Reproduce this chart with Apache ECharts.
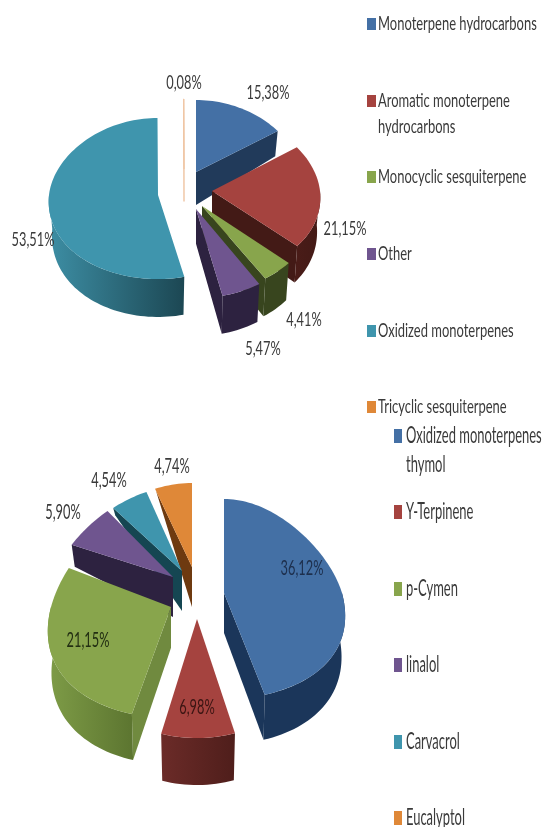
<!DOCTYPE html>
<html>
<head>
<meta charset="utf-8">
<title>Essential oil composition</title>
<script src="https://cdn.jsdelivr.net/npm/echarts@6/dist/echarts.min.js"></script>
<style>
html,body{margin:0;padding:0;background:#fff}
/* the source picture is a soft upscaled scan */
#main{width:542px;height:827px;filter:blur(0.5px)}
</style>
</head>
<body>
<div id="main"></div>
<script>
// data
var classNames = ['Monoterpene hydrocarbons', 'Aromatic monoterpene\nhydrocarbons', 'Monocyclic sesquiterpene', 'Other', 'Oxidized monoterpenes', 'Tricyclic sesquiterpene'];
var classValues = [15.38, 21.15, 4.41, 5.47, 53.51, 0.08];
var compoundNames = ['Oxidized monoterpenes\nthymol', 'Y-Terpinene', 'p-Cymen', 'linalol', 'Carvacrol', 'Eucalyptol'];
var compoundValues = [36.12, 6.98, 21.15, 5.90, 4.54, 4.74];

var topColors = ['#4470a5', '#a5433f', '#88a54c', '#6f558f', '#3f95ad', '#df8838'];

// geometry of each exploded slice, in px: apex, radii
var classSlices = [
  {ax: 196, ay: 172, rx: 104, ryT: 72, ryB: 74},
  {ax: 212, ay: 191, rx: 108, ryT: 77, ryB: 83},
  {ax: 202, ay: 206, rx: 110, ryT: 86, ryB: 86},
  {ax: 196, ay: 209, rx: 110, ryT: 88, ryB: 89},
  {ax: 158, ay: 195, rx: 109, ryT: 77, ryB: 84},
  {ax: 184, ay: 169, rx: 100, ryT: 70, ryB: 70}
];
var compoundSlices = [
  {ax: 224, ay: 593, rx: 118, ryT: 94, ryB: 106},
  {ax: 197, ay: 619, rx: 110, ryT: 110, ryB: 119},
  {ax: 171, ay: 607, rx: 120, ryT: 108, ryB: 111},
  {ax: 173, ay: 577, rx: 119, ryT: 89, ryB: 89},
  {ax: 182, ay: 571, rx: 125, ryT: 85, ryB: 85},
  {ax: 192, ay: 567, rx: 130, ryT: 84, ryB: 84}
];
// wall colours: flat side, then curved rim left -> right
var classWalls = [
  ['#213a5a', '#213a5a', '#213a5a'],
  ['#431a16', '#4a1c18', '#431a16'],
  ['#38451e', '#38451e', '#38451e'],
  ['#2d2240', '#2d2240', '#2d2240'],
  ['#1c4753', '#3d8ea4', '#1c4753'],
  ['#f0c8a8', '#f0c8a8', '#f0c8a8']
];
var compoundWalls = [
  ['#1b365a', '#1b365a', '#1b365a'],
  ['#5a2320', '#6b2b28', '#4f1e1b'],
  ['#708a3f', '#7e9c47', '#5c7530'],
  ['#2d2240', '#2d2240', '#2d2240'],
  ['#154652', '#154652', '#154652'],
  ['#6e3a10', '#6e3a10', '#6e3a10']
];

var classDepth = [[95, 0], [130, 25], [172, 33], [280, 38], [400, 38]];
var compoundDepth = [[480, 0], [510, 8], [545, 22], [567, 40], [593, 40], [733, 47], [800, 47]];

var classLabelPos = [[268, 93], [345, 229], [304, 320], [263, 349], [33, 240], [184, 83]];
var compoundLabelPos = [[302, 568], [197, 707], [88, 640], [63, 512], [109, 480], [172, 466]];
var compoundLabelFill = ['#1d2f4d', '#3c1513', '#222e12', '#3a3a3a', '#3a3a3a', '#3a3a3a'];

var classLegendY = [24, 101, 177, 254, 331, 407];
var compoundLegendY = [436, 512, 589, 665, 742, 818];

var FONT = 'Lato';

function angles(values) {
  var sum = values.reduce(function (a, b) { return a + b; }, 0);
  var acc = 0;
  return values.map(function (v) {
    var a0 = acc;
    acc += v / sum * 360;
    return [a0, acc];
  });
}

function depthAt(stops, y) {
  for (var i = 1; i < stops.length; i++) {
    if (y <= stops[i][0]) {
      var t = (y - stops[i - 1][0]) / (stops[i][0] - stops[i - 1][0]);
      return stops[i - 1][1] + Math.max(t, 0) * (stops[i][1] - stops[i - 1][1]);
    }
  }
  return stops[stops.length - 1][1];
}

function rim(s, deg, persp) {
  var r = deg * Math.PI / 180;
  var sn = Math.sin(r), cs = Math.cos(r);
  return [s.ax + s.rx * sn * (1 - persp * cs), s.ay - (cs > 0 ? s.ryT : s.ryB) * cs];
}

function lower(s, p, stops) {
  return [s.ax + (p[0] - s.ax) * 0.97, p[1] + depthAt(stops, p[1])];
}

function arc(s, a0, a1, persp) {
  var pts = [], n = Math.max(2, Math.ceil((a1 - a0) / 2));
  for (var i = 0; i <= n; i++) pts.push(rim(s, a0 + (a1 - a0) * i / n, persp));
  return pts;
}

// one custom series per pie, slices sorted back to front with z2
function pieSeries(values, slices, walls, stops, persp) {
  var ang = angles(values);
  var rank = values.map(function (v, i) { return i; }).sort(function (a, b) {
    var ma = (ang[a][0] + ang[a][1]) / 2 * Math.PI / 180, mb = (ang[b][0] + ang[b][1]) / 2 * Math.PI / 180;
    return Math.cos(mb) - Math.cos(ma);
  });
  return {
    type: 'custom',
    coordinateSystem: 'none',
    silent: true,
    animation: false,
    data: values,
    renderItem: function (params) {
      var i = params.dataIndex, s = slices[i], a0 = ang[i][0], a1 = ang[i][1];
      var z = rank.indexOf(i) * 4 + 1;
      var thin = a1 - a0 < 1;
      var kids = [];
      var apex = [s.ax, s.ay], apexLow = lower(s, apex, stops);
      function flat(deg) {
        var p = rim(s, deg, persp);
        kids.push({type: 'polygon', z2: z, shape: {points: [apex, p, lower(s, p, stops), apexLow]},
          style: {fill: walls[i][0], stroke: thin ? walls[i][0] : null, lineWidth: 1}});
      }
      if (Math.sin(a0 * Math.PI / 180) < -1e-6) flat(a0);
      if (Math.sin(a1 * Math.PI / 180) > 1e-6) flat(a1);
      var r0 = Math.max(a0, 90), r1 = Math.min(a1, 270);
      if (r1 > r0) {
        var up = arc(s, r0, r1, persp);
        var low = up.map(function (p) { return lower(s, p, stops); }).reverse();
        kids.push({type: 'polygon', z2: z + 1, shape: {points: up.concat(low)},
          style: {fill: new echarts.graphic.LinearGradient(0, 0, 1, 0, [
            {offset: 0, color: walls[i][1]}, {offset: 1, color: walls[i][2]}
          ])}});
      }
      kids.push({type: 'polygon', z2: z + 2, shape: {points: [apex].concat(arc(s, a0, a1, persp))},
        style: {fill: topColors[i], stroke: thin ? '#f0c8a8' : null, lineWidth: 1}});
      return {type: 'group', children: kids};
    }
  };
}

function textEl(str, x, y, fill, sx, sy, align) {
  return {
    type: 'text', x: x, y: y, scaleX: sx, scaleY: sy, z2: 100,
    style: {text: str, fill: fill, font: '16px ' + FONT, textAlign: align, textVerticalAlign: 'middle'}
  };
}

function labelSeries(values, pos, fills, sy) {
  return {
    type: 'custom', coordinateSystem: 'none', silent: true, animation: false, z: 5,
    data: values,
    renderItem: function (params, api) {
      var i = params.dataIndex;
      var str = api.value(0).toFixed(2).replace('.', ',') + '%';
      return textEl(str, pos[i][0], pos[i][1], fills ? fills[i] : '#3a3a3a', 0.8, sy, 'center');
    }
  };
}

function legendSeries(names, rows, swX, swW, swH, txX, sx, sy, lineGap) {
  return {
    type: 'custom', coordinateSystem: 'none', silent: true, animation: false, z: 5,
    data: names.map(function (n, i) { return i; }),
    renderItem: function (params) {
      var i = params.dataIndex, y = rows[i];
      var kids = [{type: 'rect', z2: 100, shape: {x: swX, y: y - swH / 2, width: swW, height: swH}, style: {fill: topColors[i]}}];
      names[i].split('\n').forEach(function (line, k) {
        kids.push(textEl(line, txX, y + k * lineGap, '#3a3a3a', sx, sy, 'left'));
      });
      return {type: 'group', children: kids};
    }
  };
}

var myChart = echarts.init(document.getElementById('main'), null, {renderer: 'canvas'});
myChart.setOption({
  animation: false,
  backgroundColor: '#fff',
  series: [
    pieSeries(classValues, classSlices, classWalls, classDepth, 0.08),
    pieSeries(compoundValues, compoundSlices, compoundWalls, compoundDepth, 0.24),
    labelSeries(classValues, classLabelPos, null, 1.2),
    labelSeries(compoundValues, compoundLabelPos, compoundLabelFill, 1.35),
    legendSeries(classNames, classLegendY, 367, 9, 12, 378, 0.81, 1.15, 26),
    legendSeries(compoundNames, compoundLegendY, 394, 8, 14, 406, 0.81, 1.4, 29)
  ]
});
</script>
</body>
</html>
